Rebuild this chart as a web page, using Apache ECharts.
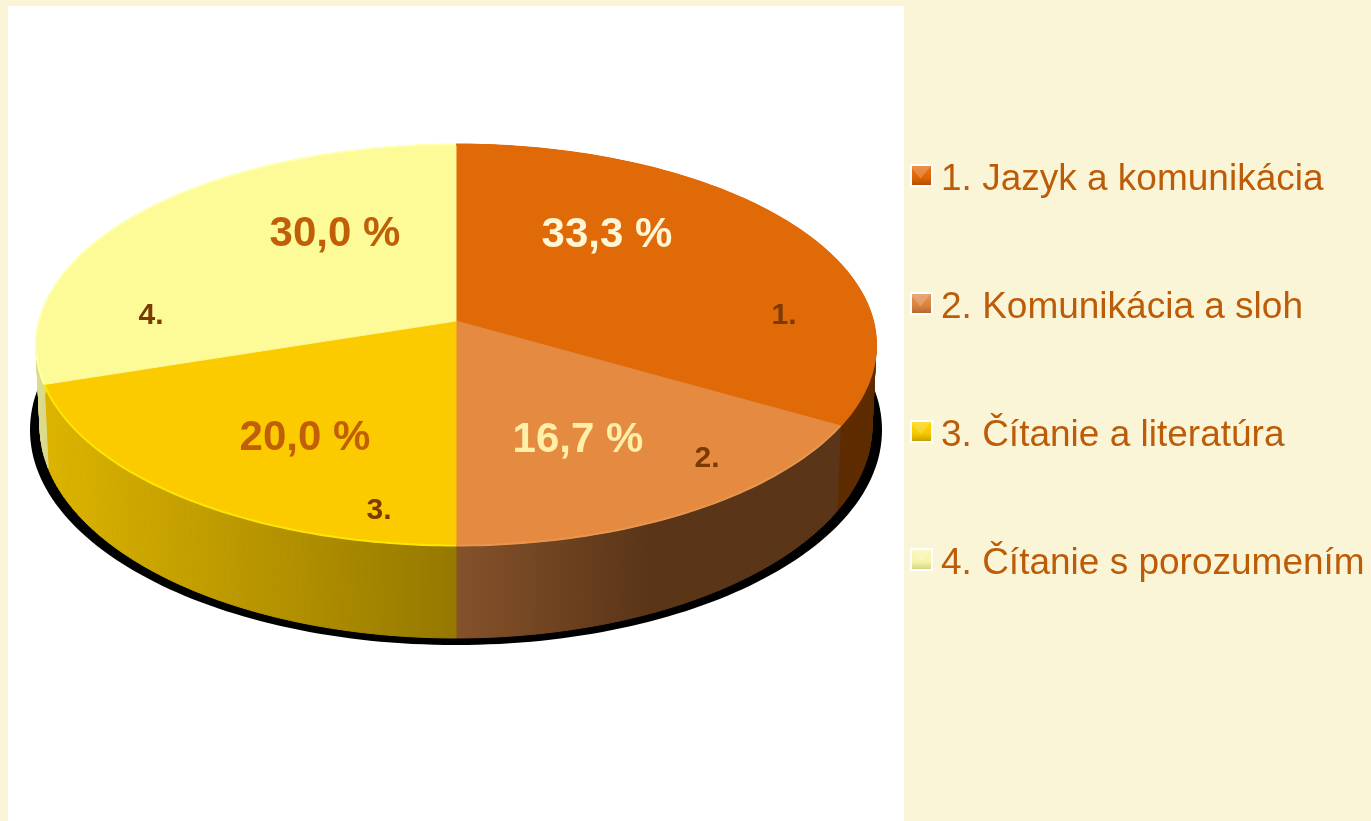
<!DOCTYPE html>
<html>
<head>
<meta charset="utf-8">
<style>
  html, body { margin: 0; padding: 0; background: #FBF5D7; }
  #main { width: 1371px; height: 821px; }
</style>
<script src="https://cdn.jsdelivr.net/npm/echarts@6/dist/echarts.min.js"></script>
</head>
<body>
<div id="main"></div>
<script>
// data
const categories = ['1. Jazyk a komunikácia', '2. Komunikácia a sloh', '3. Čítanie a literatúra', '4. Čítanie s porozumením']
const shares = [33.3, 16.7, 20.0, 30.0]
const sliceNames = ['1.', '2.', '3.', '4.']

const FONT = '"Liberation Sans", Arial, sans-serif'
const topColors = ['#E16A08', '#E58A41', '#FBCB00', '#FCFB98']
const rimColors = ['#E16A08', '#E9964F', '#FFE600', '#FFFFB0']
const legendColors = [
  ['#E97A1C', '#DE6408', '#A84A05'],
  ['#E59458', '#D98340', '#A8622C'],
  ['#FFD800', '#F5C800', '#B89800'],
  ['#F8F8B8', '#F6F4A8', '#CCCC80']
]
const valueColors = ['#FFF6D6', '#FFEFA8', '#C05F07', '#C05F07']
const nameColor = '#7A3A00'

// pie geometry: top rim, bottom rim, shadow, and the apex the slices meet at
const apex = { x: 456, y: 321 }
const topRim = { cx: 456, cy: 345, rx: 420, ry: 200.5 }
const bottomRim = { cx: 456, cy: 426, rx: 416, ry: 212 }
const shadow = { cx: 456, cy: 430, rx: 426, ry: 215 }
// perspective squeeze of slice angles around the off-centre apex
const squeeze = 0.887

// hand placed labels, as offsets from the apex
const valueLabelPos = [[151, -86], [122, 119], [-151, 117], [-121, -87]]
const nameLabelPos = [[328, -5], [251, 138], [-77, 190], [-305, -5]]

// legend layout
const legendIcon = { x: 910, y: 166, size: 21, step: 128 }

function wallGradient(i) {
  const linear = (x0, x1, stops) => new echarts.graphic.LinearGradient(x0, 0, x1, 0, stops, true)
  if (i === 0) return '#5E2C00'
  if (i === 1) return linear(456, 650, [{ offset: 0, color: '#85522A' }, { offset: 1, color: '#5A3518' }])
  if (i === 2) return linear(50, 456, [{ offset: 0, color: '#DCB400' }, { offset: 1, color: '#957800' }])
  return '#DCDC8C'
}

function rimPoint(rim, turn) {
  const half = turn * Math.PI
  const phi = 2 * Math.atan2(squeeze * Math.sin(half), Math.cos(half))
  return [rim.cx + rim.rx * Math.sin(phi), rim.cy - rim.ry * Math.cos(phi)]
}

function percentLabel(v) {
  return v.toFixed(1).replace('.', ',') + ' %'
}

function makeRenderItem(i) {
  return function (params, api) {
    const total = shares.reduce((a, b) => a + b, 0)
    const before = shares.slice(0, i).reduce((a, b) => a + b, 0)
    const from = before / total
    const to = (before + api.value(0)) / total
    const steps = Math.max(8, Math.round((to - from) * 360))
    const fill = wallGradient(i)
    const children = []
    const arc = []
    let prevTop = null
    let prevBottom = null
    for (let s = 0; s <= steps; s++) {
      const t = from + (to - from) * s / steps
      const a = rimPoint(topRim, t)
      const b = rimPoint(bottomRim, t)
      arc.push(a)
      if (prevTop) {
        children.push({
          type: 'polygon',
          z2: 1,
          silent: true,
          shape: { points: [prevTop, a, b, prevBottom] },
          style: { fill: fill, stroke: fill, lineWidth: 1 }
        })
      }
      prevTop = a
      prevBottom = b
    }
    children.push({
      type: 'polygon',
      z2: 2,
      shape: { points: [[apex.x, apex.y]].concat(arc) },
      style: { fill: topColors[i], stroke: topColors[i], lineWidth: 1 }
    })
    children.push({
      type: 'polyline',
      z2: 3,
      silent: true,
      shape: { points: arc },
      style: { fill: null, stroke: rimColors[i], lineWidth: 2 }
    })
    children.push({
      type: 'text',
      z2: 4,
      silent: true,
      style: {
        x: apex.x + valueLabelPos[i][0],
        y: apex.y + valueLabelPos[i][1],
        text: percentLabel(api.value(0)),
        fill: valueColors[i],
        font: 'bold 42px ' + FONT,
        align: 'center',
        verticalAlign: 'middle'
      }
    })
    children.push({
      type: 'text',
      z2: 4,
      silent: true,
      style: {
        x: apex.x + nameLabelPos[i][0],
        y: apex.y + nameLabelPos[i][1],
        text: sliceNames[i],
        fill: nameColor,
        font: 'bold 30px ' + FONT,
        align: 'center',
        verticalAlign: 'middle'
      }
    })
    return { type: 'group', children: children }
  }
}

// light top bevel on the legend squares
function legendBevels() {
  return categories.map(function (name, i) {
    const x = legendIcon.x
    const y = legendIcon.y + i * legendIcon.step
    const s = legendIcon.size
    return {
      type: 'polygon',
      z: 10,
      silent: true,
      shape: { points: [[x, y], [x + s, y], [x + s / 2, y + s * 0.6]] },
      style: { fill: 'rgba(255,255,255,0.2)' }
    }
  })
}

const myChart = echarts.init(document.getElementById('main'), null, { renderer: 'canvas' })

const series = [{
  type: 'custom',
  name: 'shadow',
  coordinateSystem: 'none',
  silent: true,
  data: [[1]],
  renderItem: function () {
    return {
      type: 'ellipse',
      z2: 0,
      shape: shadow,
      style: { fill: '#000' }
    }
  }
}].concat(categories.map(function (name, i) {
  return {
    type: 'custom',
    name: name,
    coordinateSystem: 'none',
    itemStyle: { color: topColors[i] },
    data: [[shares[i]]],
    renderItem: makeRenderItem(i)
  }
}))

myChart.setOption({
  animation: false,
  backgroundColor: '#FBF5D7',
  tooltip: { show: false },
  graphic: [{
    type: 'rect',
    z: -1,
    silent: true,
    shape: { x: 8, y: 6, width: 896, height: 815 },
    style: { fill: '#fff' }
  }].concat(legendBevels()),
  legend: {
    orient: 'vertical',
    left: 910,
    top: 161,
    padding: 0,
    itemWidth: 21,
    itemHeight: 21,
    itemGap: 91,
    selectedMode: false,
    formatter: function (name) { return '{a|' + name + '}' },
    textStyle: {
      rich: {
        a: { color: '#BC5C08', fontFamily: FONT, fontSize: 37, padding: [8, 0, 0, 4] }
      }
    },
    data: categories.map(function (name, i) {
      return {
        name: name,
        icon: 'rect',
        itemStyle: {
          color: new echarts.graphic.LinearGradient(0, 0, 0, 1, [
            { offset: 0, color: legendColors[i][0] },
            { offset: 0.6, color: legendColors[i][1] },
            { offset: 1, color: legendColors[i][2] }
          ]),
          borderColor: '#fff',
          borderWidth: 2
        }
      }
    })
  },
  series: series
})
</script>
</body>
</html>
